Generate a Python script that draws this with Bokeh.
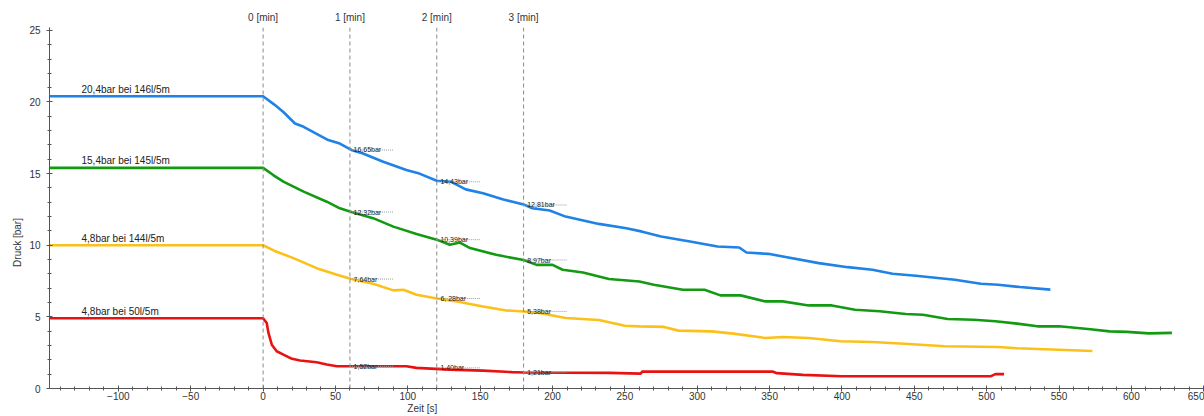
import math
from bokeh.plotting import figure
from bokeh.models import Range1d, SingleIntervalTicker, FixedTicker, Span, Label, LinearAxis
from bokeh.core.properties import value
from bokeh.embed import file_html
from bokeh.resources import INLINE

# ---------------- data ----------------
blue_t = [-148, 0, 8, 14, 22, 28, 45, 53, 61, 69, 83, 99, 108, 120, 130, 140, 152, 166, 180,
          186, 198, 209, 232, 251, 262, 275, 295, 314, 329, 334, 349, 384, 404, 421, 435, 451,
          478, 496, 508, 523, 544]
blue_p = [20.4, 20.4, 19.8, 19.3, 18.5, 18.27, 17.34, 17.1, 16.65, 16.4, 15.83, 15.25, 15.0,
          14.5, 14.43, 13.9, 13.63, 13.2, 12.85, 12.58, 12.42, 12.0, 11.49, 11.19, 10.95, 10.61,
          10.26, 9.91, 9.84, 9.49, 9.4, 8.75, 8.47, 8.29, 8.01, 7.87, 7.59, 7.31, 7.24, 7.08, 6.9]

green_t = [-148, 0, 7, 14, 28, 44, 53, 61, 76, 90, 106, 120, 129, 136, 143, 161, 180, 189, 200,
           207, 221, 239, 260, 270, 290, 305, 316, 330, 347, 359, 377, 393, 409, 426, 444, 456,
           473, 491, 506, 521, 535, 550, 570, 585, 597, 612, 628]
green_p = [15.4, 15.4, 14.9, 14.44, 13.74, 13.04, 12.58, 12.32, 11.89, 11.3, 10.79, 10.39, 10.03,
           10.19, 9.8, 9.33, 8.97, 8.63, 8.63, 8.29, 8.1, 7.64, 7.47, 7.24, 6.89, 6.89, 6.5, 6.5,
           6.08, 6.08, 5.8, 5.8, 5.5, 5.39, 5.2, 5.15, 4.85, 4.8, 4.69, 4.53, 4.34, 4.34, 4.15,
           3.99, 3.95, 3.85, 3.88]

yellow_t = [-148, 0, 9, 21, 37, 51, 61, 76, 90, 97, 106, 120, 134, 152, 168, 180, 191, 209, 232,
            250, 260, 277, 287, 310, 325, 347, 359, 377, 399, 421, 446, 471, 508, 521, 545, 573]
yellow_p = [10.0, 10.0, 9.56, 9.1, 8.4, 7.94, 7.64, 7.31, 6.85, 6.89, 6.55, 6.28, 6.08, 5.73,
            5.45, 5.38, 5.27, 4.92, 4.78, 4.38, 4.34, 4.3, 4.04, 3.99, 3.83, 3.53, 3.6, 3.53, 3.3,
            3.25, 3.11, 2.95, 2.9, 2.81, 2.72, 2.62]

red_t = [-148, 0, 2.5, 3.7, 6, 9.4, 14, 20, 25.5, 37, 44, 51, 99, 106, 129, 152, 172, 180, 239,
         261, 262, 352, 355, 373, 400, 503, 506, 512]
red_p = [4.9, 4.9, 4.57, 3.88, 3.06, 2.6, 2.37, 2.07, 1.95, 1.83, 1.67, 1.55, 1.55, 1.44, 1.32,
         1.25, 1.14, 1.12, 1.09, 1.04, 1.18, 1.18, 1.07, 0.95, 0.86, 0.86, 1.0, 1.0]

series_names = ["20,4bar bei 146l/5m", "15,4bar bei 145l/5m", "4,8bar bei 144l/5m", "4,8bar bei 50l/5m"]
series_colors = ["#1f82e6", "#139a13", "#fcc01a", "#e81212"]

minute_marks = [0, 60, 120, 180]
minute_labels = ["0 [min]", "1 [min]", "2 [min]", "3 [min]"]

mark_times = [60, 120, 180]
blue_mark_vals = [16.65, 14.43, 12.81]
green_mark_vals = [12.32, 10.39, 8.97]
yellow_mark_vals = [7.64, 6.28, 5.38]
red_mark_vals = [1.55, 1.44, 1.14]
blue_mark_txt = ["16,65bar", "14,43bar", "12,81bar"]
green_mark_txt = ["12,32bar", "10,39bar", "8,97bar"]
yellow_mark_txt = ["7,64bar", "6, 28bar", "5,38bar"]
red_mark_txt = ["1,52bar", "1,40bar", "1,21bar"]

x_label = "Zeit [s]"
x_label_pos = 110
y_label = "Druck [bar]"
y_label_pos = 11.9

# ---------------- figure ----------------
FONT = "Liberation Sans"
TXT = "#333333"
AX = "#555555"

p = figure(width=1204, height=416, output_backend="svg", toolbar_location=None,
           x_range=Range1d(-147.6, 650.5), y_range=Range1d(0, 25.2),
           min_border_left=49, min_border_right=0, min_border_top=27, min_border_bottom=27)
p.outline_line_color = None
p.background_fill_color = "white"
p.border_fill_color = "white"
p.xgrid.visible = False
p.ygrid.visible = False

p.xaxis.ticker = SingleIntervalTicker(interval=50, num_minor_ticks=5)
p.yaxis.ticker = SingleIntervalTicker(interval=5, num_minor_ticks=5)
for ax in (p.xaxis, p.yaxis):
    ax.axis_line_color = AX
    ax.major_tick_line_color = AX
    ax.minor_tick_line_color = AX
    ax.major_tick_in = 3
    ax.major_tick_out = 3
    ax.minor_tick_in = 2
    ax.minor_tick_out = 2
    ax.major_label_text_font = FONT
    ax.major_label_text_font_size = "10px"
    ax.major_label_text_color = TXT
p.xaxis.major_label_standoff = 0
p.yaxis.major_label_standoff = 6


def text_axis(ticks, labels, **kw):
    ax = LinearAxis(ticker=FixedTicker(ticks=ticks),
                    major_label_overrides={t: l for t, l in zip(ticks, labels)},
                    axis_line_color=None, major_tick_line_color=None,
                    minor_tick_line_color=None, major_label_text_font=FONT,
                    major_label_text_font_size="10px", major_label_text_color=TXT, **kw)
    return ax


# minute labels above the frame
p.add_layout(text_axis(minute_marks, minute_labels, major_label_standoff=-1), "above")
# axis titles as extra label-only axes (placed off-centre like the reference)
p.add_layout(text_axis([x_label_pos], [x_label], major_label_standoff=-6), "below")
p.add_layout(text_axis([y_label_pos], [y_label], major_label_standoff=3,
                       major_label_orientation=math.pi / 2), "left")

# minute dashed lines
for m in minute_marks:
    p.add_layout(Span(location=m, dimension="height", line_color="#8a8a8a",
                      line_width=1, line_dash="4 3"))

# data lines
all_t = [blue_t, green_t, yellow_t, red_t]
all_p = [blue_p, green_p, yellow_p, red_p]
for t, pr, c in zip(all_t, all_p, series_colors):
    p.line(t, pr, line_color=c, line_width=2.6)

# series labels
for pr, name in zip(all_p, series_names):
    p.add_layout(Label(x=-125.5, y=pr[0], y_offset=7, text=name, text_align="left",
                       text_baseline="alphabetic", text_font=FONT, text_font_size="10px",
                       text_color="#222222"))

# minute value marks
all_vals = [blue_mark_vals, green_mark_vals, yellow_mark_vals, red_mark_vals]
all_txt = [blue_mark_txt, green_mark_txt, yellow_mark_txt, red_mark_txt]
for vals, txts in zip(all_vals, all_txt):
    p.segment(x0=mark_times, y0=vals, x1=[t + 30 for t in mark_times], y1=vals,
              line_color="#9a9a9a", line_width=1, line_dash="1 1")
    p.text(x=[t + 2.5 for t in mark_times], y=vals, text=txts, text_font=value(FONT),
           text_font_size="7px", text_color="#222222", text_baseline="alphabetic",
           text_align="left")

open("out.html", "w").write(file_html(p, INLINE))
